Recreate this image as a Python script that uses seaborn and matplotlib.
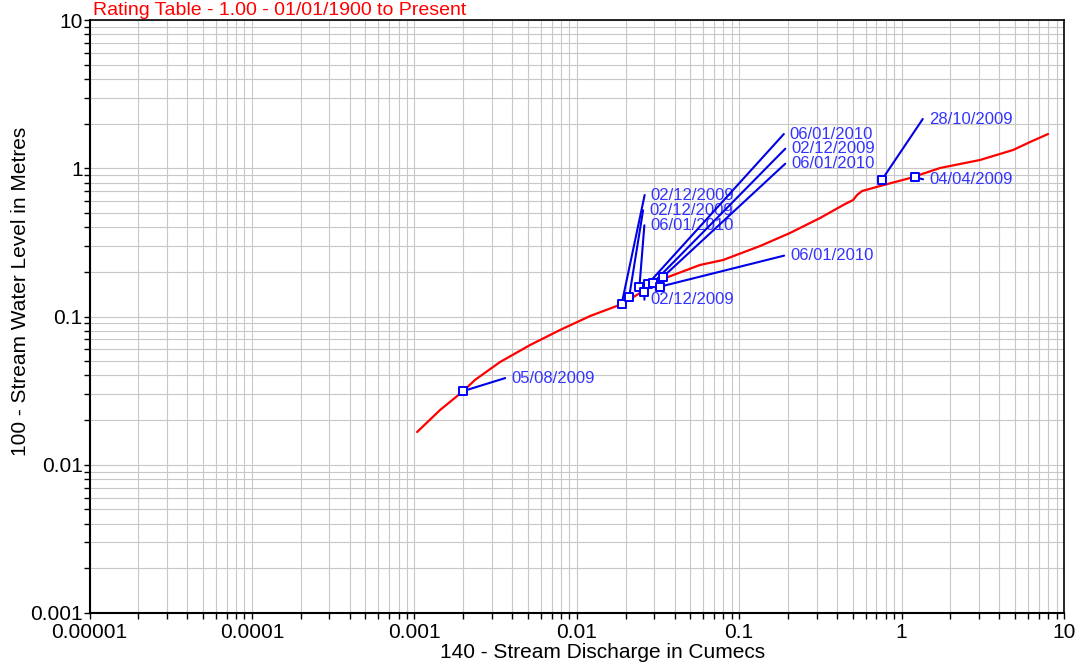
import matplotlib
matplotlib.use("Agg")
import matplotlib.pyplot as plt
import matplotlib.ticker as mticker
import numpy as np
import pandas as pd
import seaborn as sns

# ---------------- data ----------------
rating_discharge = [0.00104, 0.00144, 0.00200, 0.00236, 0.00337, 0.00516, 0.00789,
                    0.0121, 0.0190, 0.0263, 0.0326, 0.0574, 0.0796, 0.1345, 0.2057,
                    0.315, 0.449, 0.503, 0.532, 0.571, 0.737, 1.128, 1.726, 3.04,
                    4.86, 6.18, 7.98]
rating_level = [0.01663, 0.0234, 0.0314, 0.0373, 0.0493, 0.0642, 0.0811,
                0.1008, 0.1214, 0.151, 0.1763, 0.2226, 0.2405, 0.2988, 0.366,
                0.4618, 0.574, 0.6107, 0.660, 0.702, 0.759, 0.859, 1.004, 1.137,
                1.328, 1.503, 1.702]

gauging_discharge = [0.00200, 0.0189, 0.0210, 0.0243, 0.0261, 0.0274, 0.0296,
                     0.0341, 0.0326, 0.755, 1.211]
gauging_level = [0.0314, 0.1214, 0.1348, 0.1574, 0.147, 0.1656, 0.169,
                 0.1856, 0.159, 0.833, 0.869]
gauging_dates = ["05/08/2009", "02/12/2009", "02/12/2009", "06/01/2010", "02/12/2009",
                 "06/01/2010", "02/12/2009", "06/01/2010", "06/01/2010",
                 "28/10/2009", "04/04/2009"]

x_ticks = [0.00001, 0.0001, 0.001, 0.01, 0.1, 1, 10]
x_tick_labels = ["0.00001", "0.0001", "0.001", "0.01", "0.1", "1", "10"]
y_ticks = [0.001, 0.01, 0.1, 1, 10]
y_tick_labels = ["0.001", "0.01", "0.1", "1", "10"]

title_text = "Rating Table - 1.00 - 01/01/1900 to Present"
x_label = "140 - Stream Discharge in Cumecs"
y_label = "100 - Stream Water Level in Metres"

# ---------------- layout (label leader-line offsets in pixels) ----------------
label_offsets = [(42, 13), (23, 109), (14, 87), (5, 62), (0, -8),
                 (136, 150), (132, 134), (122, 113), (124, 31),
                 (41, 61), (8, -2)]

rating_df = pd.DataFrame({"Q": rating_discharge, "H": rating_level})
gauge_df = pd.DataFrame({"Q": gauging_discharge, "H": gauging_level, "date": gauging_dates})

sns.set_theme(style="white")
plt.rcParams["font.family"] = ["Liberation Sans", "DejaVu Sans"]

fig = plt.figure(figsize=(10.86, 6.68), dpi=100)
ax = fig.add_axes([89.5 / 1086, 1 - 613 / 668, (1064 - 89.5) / 1086, (613 - 20) / 668])
ax.set_xscale("log")
ax.set_yscale("log")
ax.set_xlim(1e-5, 10)
ax.set_ylim(1e-3, 10)

# grid
ax.grid(True, which="both", color="#c8c8c8", linewidth=0.8)
ax.set_axisbelow(True)

sns.lineplot(data=rating_df, x="Q", y="H", ax=ax, color="#ff0000", linewidth=1.6,
             sort=False, estimator=None)

blue_line = "#0000e6"
blue_text = "#3333ff"
for (q, h, d), (dx, dy) in zip(zip(gauging_discharge, gauging_level, gauging_dates), label_offsets):
    ax.annotate("", xy=(q, h), xytext=(dx, dy), textcoords="offset pixels",
                arrowprops=dict(arrowstyle="-", color=blue_line, lw=1.5,
                                shrinkA=0, shrinkB=0))
    ax.annotate(d, xy=(q, h), xytext=(dx + 6, dy), textcoords="offset pixels",
                ha="left", va="center", fontsize=12, color=blue_text)

sns.scatterplot(data=gauge_df, x="Q", y="H", ax=ax, marker="s", s=28,
                facecolor="white", edgecolor="#0000ff", linewidth=1.4, zorder=5)

# ticks
ax.xaxis.set_major_locator(mticker.FixedLocator(x_ticks))
ax.xaxis.set_major_formatter(mticker.FixedFormatter(x_tick_labels))
ax.yaxis.set_major_locator(mticker.FixedLocator(y_ticks))
ax.yaxis.set_major_formatter(mticker.FixedFormatter(y_tick_labels))
ax.xaxis.set_minor_locator(mticker.LogLocator(base=10, subs=np.arange(2, 10)))
ax.yaxis.set_minor_locator(mticker.LogLocator(base=10, subs=np.arange(2, 10)))
ax.xaxis.set_minor_formatter(mticker.NullFormatter())
ax.yaxis.set_minor_formatter(mticker.NullFormatter())
ax.tick_params(axis="both", which="both", direction="out", length=4, width=1,
               color="black", labelsize=15, labelcolor="black", pad=3,
               bottom=True, left=True, top=False, right=False)
ax.tick_params(axis="y", which="major", pad=1)

for side in ["left", "bottom"]:
    ax.spines[side].set_color("black")
    ax.spines[side].set_linewidth(1.5)
for side in ["top", "right"]:
    ax.spines[side].set_color("black")
    ax.spines[side].set_linewidth(1.2)

ax.set_xlabel(x_label, fontsize=15, color="black")
ax.set_ylabel(y_label, fontsize=15, color="black")
ax.xaxis.set_label_coords((603 - 89.5) / 974.5, (613 - 652) / 593)
ax.yaxis.set_label_coords((21 - 89.5) / 974.5, (613 - 291) / 593)
ax.xaxis.label.set_va("center")
ax.yaxis.label.set_va("center")

# title kept fully inside the canvas, just above the plot frame
fig.text(93 / 1086, 1 - 15 / 668, title_text, color="#ff0000", fontsize=14,
         ha="left", va="baseline")

fig.savefig("out.png", dpi=100, facecolor="white")
